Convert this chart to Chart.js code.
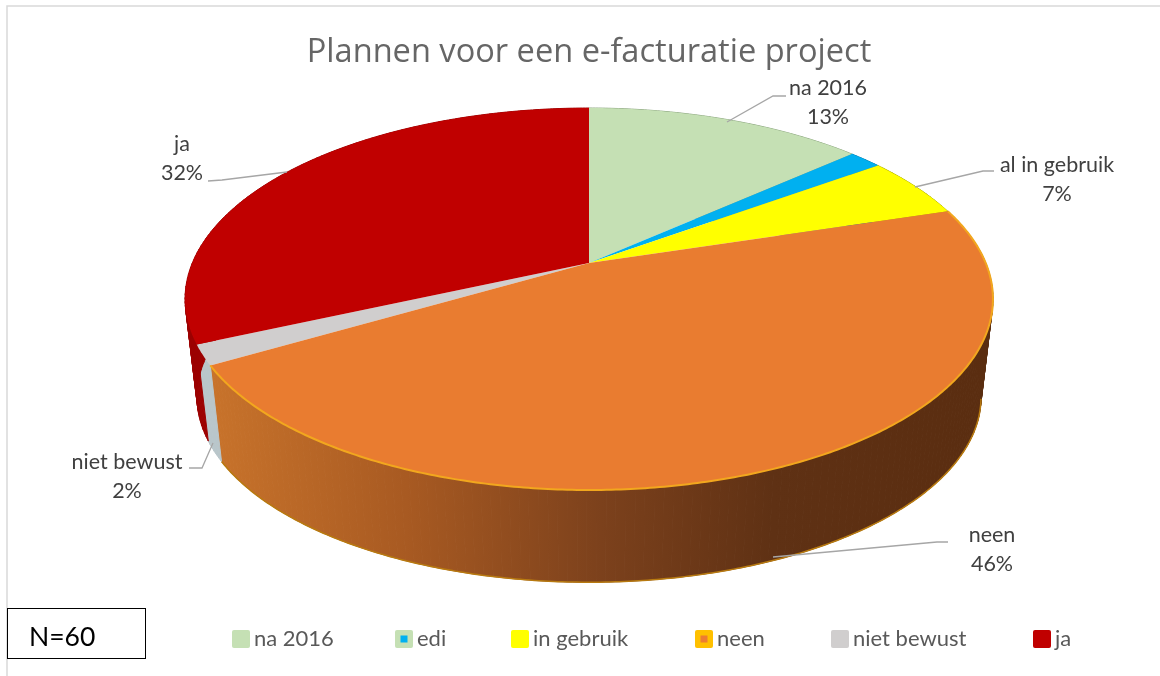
<!DOCTYPE html>
<html><head><meta charset="utf-8">
<style>html,body{margin:0;padding:0;background:#fff}canvas{display:block}</style>
<script src="https://cdn.jsdelivr.net/npm/chart.js@4/dist/chart.umd.min.js"></script>
</head><body><canvas id="c" width="1160" height="676"></canvas>
<script>
const categories = ['na 2016','edi','in gebruik','neen','niet bewust','ja'];
const sliceShares = [13.4,1.6,5.2,46.4,1.7,31.7];
const sliceColors = ['#C5E0B4','#00B0F0','#FFFF00','#E97C30','#D0CECE','#C00000'];
const wallColors = ['#8fa883','#0080b0','#b0b000',null,'#b9c6ca','#9c0000'];
const legendInner = [null,'#00B0F0',null,'#ED7D31',null,null];
const legendOuter = ['#C5E0B4','#C5E0B4','#FFFF00','#FFC000','#D0CECE','#C00000'];
const pointLabels = ['na 2016','al in gebruik','neen','niet bewust','ja'];
const pointPercents = ['13%','7%','46%','2%','32%'];
const note = 'N=60';

const FONT = 'Lato, Carlito, sans-serif';
const top3d = {cx:589, cy:263, R:396.7, S:184.2, c:0.1885};
const low3d = {cx:589, cy:362, R:385, S:178.7, c:0.1885};
function proj(p, ang){ // ang: canvas angle, as the library gives it
  const u=Math.cos(ang), v=Math.sin(ang), w=1-p.c*v;
  return [p.cx+p.R*u/w, p.cy+p.S*v/w];
}
function rim(ctx,p,a0,a1,first){
  const n=Math.max(2,Math.ceil(Math.abs(a1-a0)/0.01));
  for(let i=0;i<=n;i++){const q=proj(p,a0+(a1-a0)*i/n); (first&&i===0)?ctx.moveTo(q[0],q[1]):ctx.lineTo(q[0],q[1]);}
}
const pie3d = {
  id:'pie3d',
  beforeDatasetsDraw(chart){
    const ctx=chart.ctx, arcs=chart.getDatasetMeta(0).data;
    ctx.save();
    // walls, as narrow strips so the silhouette runs along the tangent between both rims
    arcs.forEach((arc,i)=>{
      const {startAngle:a0,endAngle:a1}=arc;
      let style=wallColors[i];
      if(!style){
        const g=ctx.createLinearGradient(212,0,990,0);
        g.addColorStop(0,'#c8732b');g.addColorStop(.25,'#a85a22');g.addColorStop(.5,'#7c411c');g.addColorStop(.72,'#5f3114');g.addColorStop(1,'#5a2d10');
        style=g;
      }
      ctx.fillStyle=style;ctx.strokeStyle=style;ctx.lineWidth=1;
      const n=Math.ceil((a1-a0)/0.02);
      for(let k=0;k<n;k++){
        const s=a0+(a1-a0)*k/n, e=a0+(a1-a0)*(k+1)/n;
        ctx.beginPath(); rim(ctx,top3d,s,e,true); rim(ctx,low3d,e,s,false); ctx.closePath();
        ctx.fill();ctx.stroke();
      }
      if(!wallColors[i]){
        ctx.beginPath(); rim(ctx,low3d,Math.max(a0,0.2),a1,true);
        ctx.strokeStyle='#b87a10';ctx.lineWidth=1.5;ctx.stroke();
      }
    });
    // top faces
    [0,1,2,4,5,3].forEach(i=>{
      const arc=arcs[i];
      ctx.beginPath(); ctx.moveTo(top3d.cx,top3d.cy); rim(ctx,top3d,arc.startAngle,arc.endAngle,false); ctx.closePath();
      ctx.fillStyle=arc.options.backgroundColor; ctx.fill();
      if(i===3){
        ctx.beginPath(); rim(ctx,top3d,arc.startAngle,arc.endAngle,true);
        ctx.strokeStyle='#F2A71E';ctx.lineWidth=2;ctx.stroke();
      }
    });
    ctx.restore();
    return false;
  },
  afterDraw(chart){
    const ctx=chart.ctx;
    ctx.save();
    // frame
    ctx.strokeStyle='#d9d9d9';ctx.lineWidth=1.5;
    ctx.beginPath();ctx.moveTo(7,676);ctx.lineTo(7,6);ctx.lineTo(1160,6);ctx.stroke();
    // leaders
    const leaders=[[[727,122],[773,96],[786,96]],[[915,187],[983,171],[994,171]],[[773,557],[937,542],[948,542]],[[213,443],[202,468],[189,468]],[[287,172],[222,180],[208,181]]];
    ctx.strokeStyle='#a6a6a6';ctx.lineWidth=1.3;
    leaders.forEach(l=>{ctx.beginPath();l.forEach((q,i)=>i?ctx.lineTo(q[0],q[1]):ctx.moveTo(q[0],q[1]));ctx.stroke();});
    // labels
    const pos=[[828,88],[1057,165],[992,535],[127,462],[182,144]];
    ctx.fillStyle='#404040';ctx.font='21.5px '+FONT;ctx.textAlign='center';ctx.textBaseline='middle';
    pointLabels.forEach((t,i)=>{ctx.fillText(t,pos[i][0],pos[i][1]);ctx.fillText(pointPercents[i],pos[i][0],pos[i][1]+29);});
    // legend
    const lx=[232,395,511,695,831,1033];
    ctx.textAlign='left';ctx.font='22px '+FONT;
    categories.forEach((t,i)=>{
      ctx.fillStyle=legendOuter[i];ctx.beginPath();ctx.roundRect(lx[i],630,18,18,2);ctx.fill();
      if(legendInner[i]){ctx.fillStyle=legendInner[i];ctx.fillRect(lx[i]+5.5,635.5,7,7);}
      ctx.fillStyle='#595959';ctx.fillText(t,lx[i]+22,639);
    });
    // note box
    ctx.strokeStyle='#000';ctx.lineWidth=1;ctx.strokeRect(7.5,608.5,138,50);
    ctx.fillStyle='#000';ctx.font='26.5px '+FONT;ctx.fillText(note,29,637);
    ctx.restore();
  }
};
new Chart(document.getElementById('c'),{
  type:'pie',
  data:{labels:categories,datasets:[{data:sliceShares,backgroundColor:sliceColors,borderWidth:0}]},
  options:{
    responsive:false,animation:false,
    layout:{padding:{left:18,top:33}},
    plugins:{
      legend:{display:false},tooltip:{enabled:false},
      title:{display:true,text:'Plannen voor een e-facturatie project',color:'#666666',font:{family:'"Open Sans", sans-serif',size:32.6,weight:'normal'},padding:0}
    }
  },
  plugins:[pie3d]
});
</script></body></html>
